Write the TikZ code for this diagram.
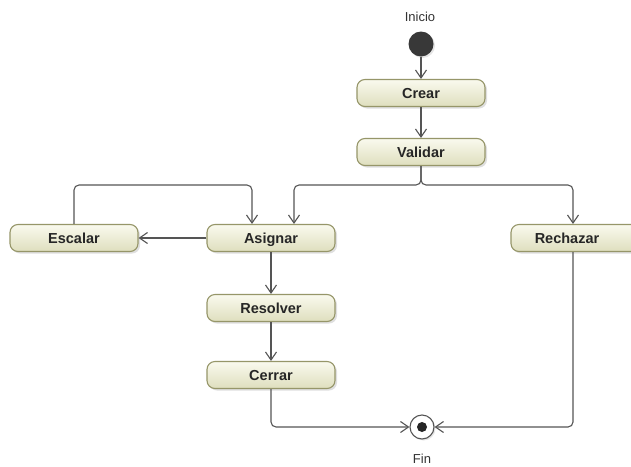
\documentclass[tikz,border=0pt]{standalone}
\usepackage{fontspec}
\setmainfont{Liberation Sans}
\usetikzlibrary{arrows.meta,shadows}
\definecolor{boxedge}{RGB}{150,150,105}
\definecolor{boxtop}{RGB}{250,250,238}
\definecolor{boxbot}{RGB}{222,222,190}
\definecolor{linec}{RGB}{85,85,85}
\begin{document}
\begin{tikzpicture}[x=1pt,y=-1pt,
  act/.style={draw=boxedge, line width=1.1pt, rounded corners=8pt,
    top color=boxtop, bottom color=boxbot,
    minimum width=128pt, minimum height=27pt, inner sep=0pt,
    text height=10.5pt, text depth=0pt,
    font=\fontsize{14.5}{16}\selectfont\bfseries, text=black!85,
    drop shadow={shadow xshift=2pt, shadow yshift=-2pt, opacity=0.25}},
  arr/.style={draw=linec, line width=1.1pt, rounded corners=5pt,
    -{Straight Barb[length=8pt,width=11pt,line width=1.1pt]}},
  lbl/.style={font=\fontsize{13}{14}\selectfont, text=black!80}
]
\clip (0,0) rectangle (631,466);
\fill[white] (0,0) rectangle (631,466);

\node[lbl] (tini) at (420,17) {Inicio};
\node[circle, fill=black!78, minimum size=25pt, inner sep=0pt,
  drop shadow={shadow xshift=1.5pt, shadow yshift=-1.5pt, opacity=0.2}] (ini) at (421,44) {};

\node[act] (crear) at (421,93) {Crear};
\node[act] (validar) at (421,152) {Validar};
\node[act] (escalar) at (74,238) {Escalar};
\node[act] (asignar) at (271,238) {Asignar};
\node[act] (rechazar) at (575,238) {\kern-16pt Rechazar};
\node[act] (resolver) at (271,308) {Resolver};
\node[act] (cerrar) at (271,375) {Cerrar};

\node[circle, draw=linec, line width=1.1pt, fill=white, minimum size=24pt, inner sep=0pt,
  drop shadow={shadow xshift=1.5pt, shadow yshift=-1.5pt, opacity=0.2}] (fin) at (422,427) {};
\node[circle, fill=black!85, minimum size=10pt, inner sep=0pt] (findot) at (fin.center) {};
\node[lbl] (tfin) at (422,459) {Fin};

\coordinate (j1) at (421,185);
\coordinate (j2) at (74,185);
\coordinate (j3) at (271,427);
\coordinate (j4) at (573,427);

\draw[arr] (ini) -- (crear);
\draw[arr] (crear) -- (validar);
\draw[arr] (validar.south) -- (j1) -| ([xshift=23pt]asignar.north);
\draw[arr] (validar.south) -- (j1) -| ([xshift=-2pt]rechazar.north);
\draw[arr] (escalar.north) -- (j2) -| ([xshift=-19pt]asignar.north);
\draw[arr] (asignar.west) -- (escalar.east);
\draw[arr] (asignar) -- (resolver);
\draw[arr] (resolver) -- (cerrar);
\draw[arr] (cerrar.south) -- (j3) -- (fin.west);
\draw[arr] ([xshift=-2pt]rechazar.south) -- (j4) -- (fin.east);
\end{tikzpicture}
\end{document}
